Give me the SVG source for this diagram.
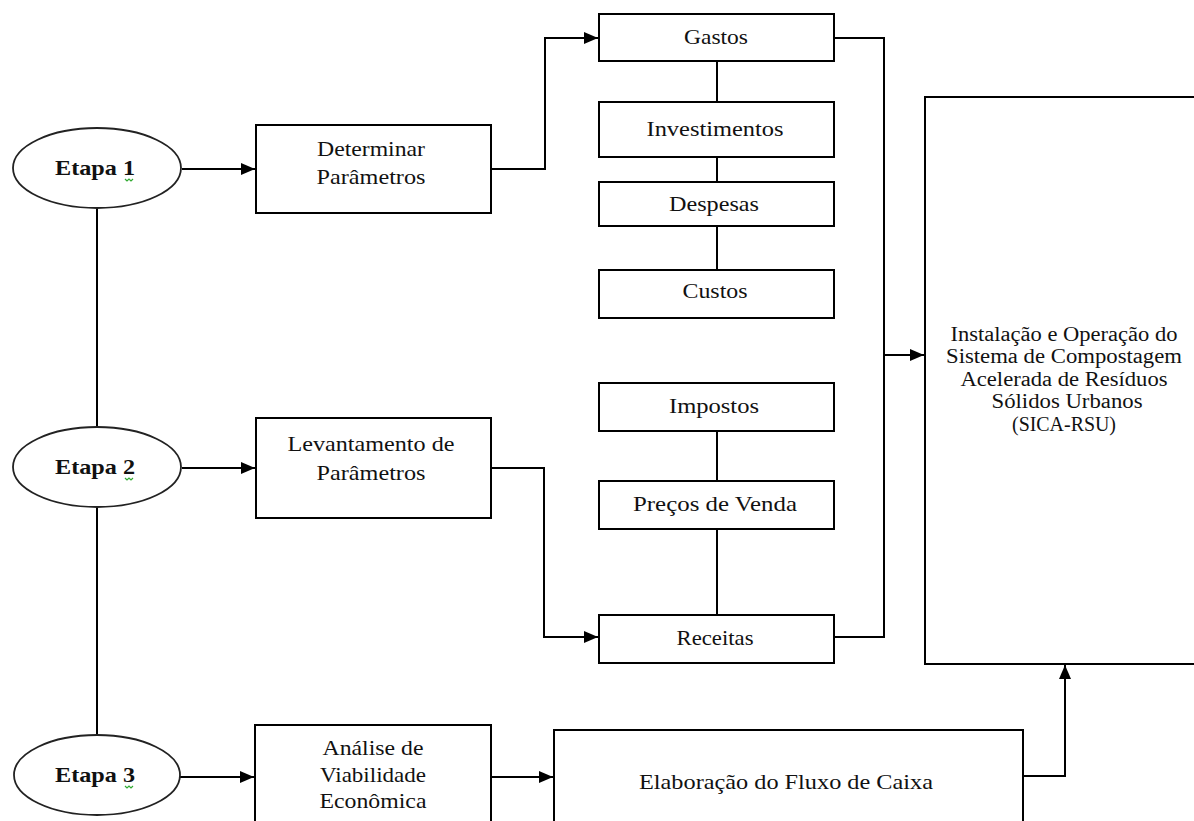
<svg xmlns="http://www.w3.org/2000/svg" width="1194" height="821" viewBox="0 0 1194 821">
<style>
.box{fill:#fff;stroke:#000;stroke-width:2}
.ell{fill:#fff;stroke:#222;stroke-width:1.8}
.t{font-family:"Liberation Serif","Times New Roman",serif;font-size:21px;fill:#111;text-anchor:middle}
.b{font-weight:bold}
.s{font-size:20px}
.ln{fill:none;stroke:#000;stroke-width:2}
.sq{fill:none;stroke:#3a3;stroke-width:1.2}
</style>
<defs>
<marker id="ah" markerWidth="14" markerHeight="12" refX="14" refY="6" orient="auto" markerUnits="userSpaceOnUse">
<path d="M0,0 L14,6 L0,12 Z" fill="#000"/>
</marker>
</defs>
<rect width="1194" height="821" fill="#fff"/>
<g id="connectors">
<line class="ln" x1="97" y1="208" x2="97" y2="427"/>
<line class="ln" x1="97" y1="507" x2="97" y2="735"/>
<line class="ln" x1="182" y1="169" x2="255" y2="169" marker-end="url(#ah)"/>
<line class="ln" x1="182" y1="468" x2="255" y2="468" marker-end="url(#ah)"/>
<line class="ln" x1="180" y1="777" x2="254" y2="777" marker-end="url(#ah)"/>
<line class="ln" x1="491" y1="777" x2="553" y2="777" marker-end="url(#ah)"/>
<polyline class="ln" points="491,169 545,169 545,38 598,38" marker-end="url(#ah)"/>
<polyline class="ln" points="491,468 544,468 544,637 598,637" marker-end="url(#ah)"/>
<line class="ln" x1="717" y1="61" x2="717" y2="102"/>
<line class="ln" x1="717" y1="157" x2="717" y2="182"/>
<line class="ln" x1="717" y1="226" x2="717" y2="270"/>
<line class="ln" x1="717" y1="431" x2="717" y2="481"/>
<line class="ln" x1="717" y1="529" x2="717" y2="615"/>
<polyline class="ln" points="834,38 884,38 884,637 834,637"/>
<line class="ln" x1="884" y1="355" x2="924" y2="355" marker-end="url(#ah)"/>
<polyline class="ln" points="1023,776 1065,776 1065,665" marker-end="url(#ah)"/>
</g>
<g id="etapa1">
<ellipse class="ell" cx="97" cy="168" rx="84" ry="40"/>
<text class="t b" x="95" y="175" textLength="80" lengthAdjust="spacingAndGlyphs">Etapa 1</text>
<path class="sq" d="M125,179 l2,2 l2,-2 l2,2 l2,-2"/>
</g>
<g id="etapa2">
<ellipse class="ell" cx="97" cy="467" rx="84" ry="40"/>
<text class="t b" x="95" y="474" textLength="80" lengthAdjust="spacingAndGlyphs">Etapa 2</text>
<path class="sq" d="M125,478 l2,2 l2,-2 l2,2 l2,-2"/>
</g>
<g id="etapa3">
<ellipse class="ell" cx="97" cy="775" rx="83" ry="40"/>
<text class="t b" x="95" y="782" textLength="80" lengthAdjust="spacingAndGlyphs">Etapa 3</text>
<path class="sq" d="M125,786 l2,2 l2,-2 l2,2 l2,-2"/>
</g>
<g id="determinar">
<rect class="box" x="256" y="125" width="235" height="88"/>
<text class="t" x="371" y="156" textLength="108" lengthAdjust="spacingAndGlyphs">Determinar</text>
<text class="t" x="371" y="184" textLength="109" lengthAdjust="spacingAndGlyphs">Parâmetros</text>
</g>
<g id="levantamento">
<rect class="box" x="256" y="418" width="235" height="100"/>
<text class="t" x="371" y="451" textLength="167" lengthAdjust="spacingAndGlyphs">Levantamento de</text>
<text class="t" x="371" y="480" textLength="109" lengthAdjust="spacingAndGlyphs">Parâmetros</text>
</g>
<g id="analise">
<rect class="box" x="255" y="725" width="236" height="110"/>
<text class="t" x="373" y="755" textLength="101" lengthAdjust="spacingAndGlyphs">Análise de</text>
<text class="t" x="373" y="782" textLength="106" lengthAdjust="spacingAndGlyphs">Viabilidade</text>
<text class="t" x="373" y="808" textLength="107" lengthAdjust="spacingAndGlyphs">Econômica</text>
</g>
<g id="fluxo">
<rect class="box" x="554" y="730" width="469" height="110"/>
<text class="t" x="786" y="789" textLength="294" lengthAdjust="spacingAndGlyphs">Elaboração do Fluxo de Caixa</text>
</g>
<g id="gastos">
<rect class="box" x="599" y="14" width="235" height="47"/>
<text class="t" x="716" y="44" textLength="64" lengthAdjust="spacingAndGlyphs">Gastos</text>
</g>
<g id="investimentos">
<rect class="box" x="599" y="102" width="235" height="55"/>
<text class="t" x="715" y="136" textLength="137" lengthAdjust="spacingAndGlyphs">Investimentos</text>
</g>
<g id="despesas">
<rect class="box" x="599" y="182" width="235" height="44"/>
<text class="t" x="714" y="211" textLength="90" lengthAdjust="spacingAndGlyphs">Despesas</text>
</g>
<g id="custos">
<rect class="box" x="599" y="270" width="235" height="48"/>
<text class="t" x="715" y="298" textLength="65" lengthAdjust="spacingAndGlyphs">Custos</text>
</g>
<g id="impostos">
<rect class="box" x="599" y="383" width="235" height="48"/>
<text class="t" x="714" y="413" textLength="90" lengthAdjust="spacingAndGlyphs">Impostos</text>
</g>
<g id="precos">
<rect class="box" x="599" y="481" width="235" height="48"/>
<text class="t" x="715" y="511" textLength="164" lengthAdjust="spacingAndGlyphs">Preços de Venda</text>
</g>
<g id="receitas">
<rect class="box" x="599" y="615" width="235" height="48"/>
<text class="t" x="715" y="645" textLength="77" lengthAdjust="spacingAndGlyphs">Receitas</text>
</g>
<g id="sica">
<rect class="box" x="925" y="97" width="290" height="567"/>
<text class="t s" x="1064" y="341" textLength="227" lengthAdjust="spacingAndGlyphs">Instalação e Operação do</text>
<text class="t s" x="1064" y="363" textLength="236" lengthAdjust="spacingAndGlyphs">Sistema de Compostagem</text>
<text class="t s" x="1064" y="386" textLength="207" lengthAdjust="spacingAndGlyphs">Acelerada de Resíduos</text>
<text class="t s" x="1067" y="408" textLength="151" lengthAdjust="spacingAndGlyphs">Sólidos Urbanos</text>
<text class="t s" x="1064" y="431" textLength="104" lengthAdjust="spacingAndGlyphs">(SICA-RSU)</text>
</g>
</svg>
